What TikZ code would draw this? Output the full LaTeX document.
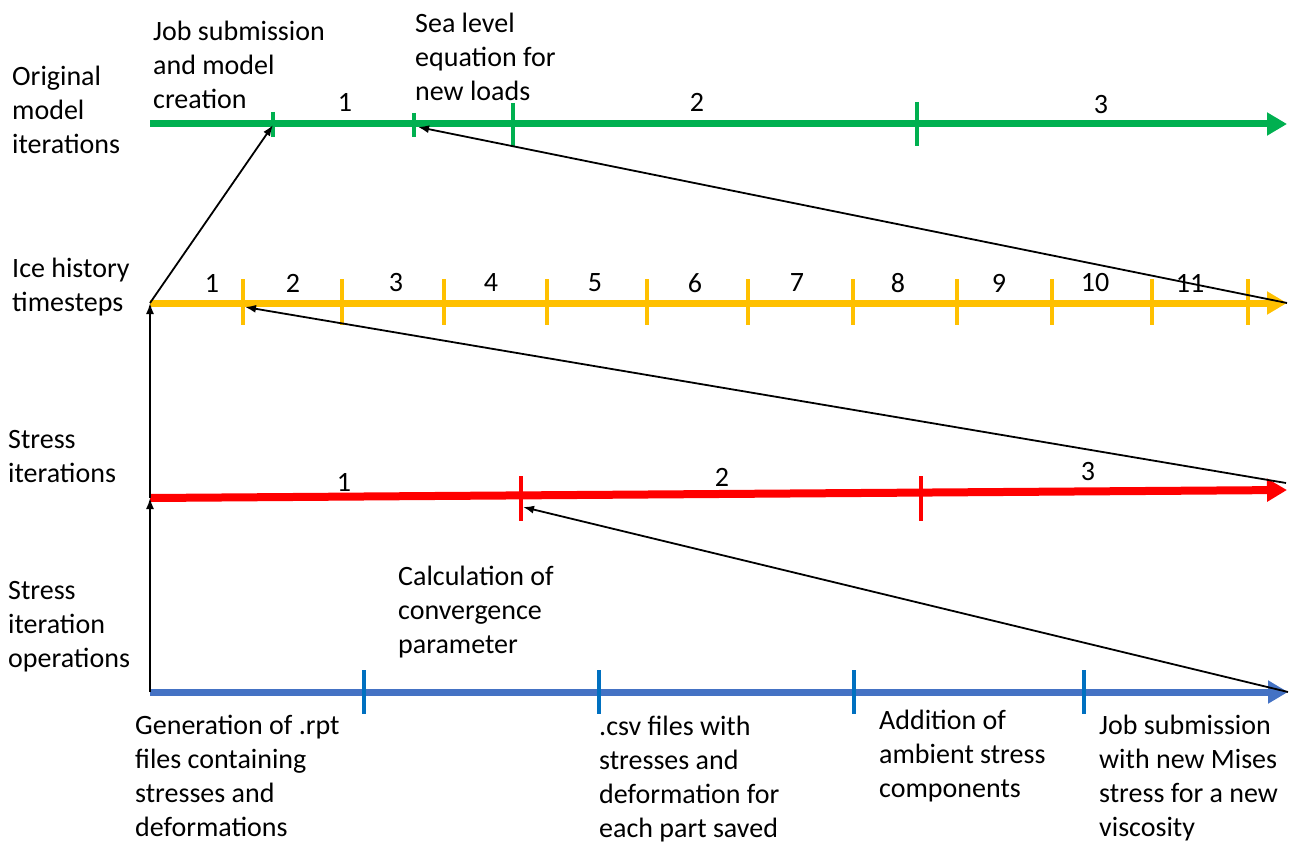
\documentclass[tikz,border=0pt]{standalone}
\usepackage{fontspec}
\setmainfont{Carlito}
\usetikzlibrary{arrows.meta}
\definecolor{tlgreen}{HTML}{00B050}
\definecolor{tlyellow}{HTML}{FFC000}
\definecolor{tlred}{HTML}{FF0000}
\definecolor{tlblue}{HTML}{4472C4}
\definecolor{tltick}{HTML}{0070C0}
\tikzset{
  axisline/.style={line width=7pt,-{Triangle[length=20pt,width=22pt]}},
  tickmark/.style={line width=4pt},
  lbl/.style={font=\fontsize{28}{34}\selectfont,align=left,anchor=north west,inner sep=0pt},
  num/.style={font=\fontsize{28}{34}\selectfont,inner sep=0pt},
  link/.style={line width=1.8pt,-{Latex[length=11pt,width=8pt]}}
}
\begin{document}
\begin{tikzpicture}[x=1pt,y=-1pt]
\useasboundingbox (0,0) rectangle (1292,845);

% key points of the four time axes
\coordinate (g0) at (150,124);  \coordinate (g1) at (1287,124);
\coordinate (y0) at (150,303);  \coordinate (y1) at (1287,303);
\coordinate (r0) at (150,498);  \coordinate (r1) at (1287,490);
\coordinate (b0) at (150,692);  \coordinate (b1) at (1288,692);

% axes
\draw[axisline,tlgreen] (g0) -- (g1);
\draw[axisline,tlyellow] (y0) -- (y1);
\draw[axisline,tlred,line width=8pt] (r0) -- (r1);
\draw[axisline,tlblue] (b0) -- (b1);

% tick marks
\draw[tickmark,tlgreen] (273,112) -- (273,137);
\draw[tickmark,tlgreen] (414,113) -- (414,137);
\draw[tickmark,tlgreen] (513,103) -- (513,146);
\draw[tickmark,tlgreen] (917,102) -- (917,146);
\foreach \x in {243,342,444,547,647,748,853,957,1052,1152,1248}
  \draw[tickmark,tlyellow] (\x,279) -- (\x,325);
\draw[tickmark,tlred] (521,476) -- (521,521);
\draw[tickmark,tlred] (921,476) -- (921,521);
\foreach \x in {364,599,854,1084}
  \draw[tickmark,tltick] (\x,670) -- (\x,714);

% connector end points on the ticks
\coordinate (gA) at (273,125);
\coordinate (gB) at (418,127);
\coordinate (yA) at (245,307);
\coordinate (rA) at (523,507);
\coordinate (rE) at (1286,483);

% row titles
\node[lbl] (tOrig) at (12,66) {Original\\model\\iterations};
\node[lbl] (tIce) at (12,258) {Ice history\\timesteps};
\node[lbl] (tStress) at (8,430) {Stress\\iterations};
\node[lbl] (tOps) at (8,581) {Stress\\iteration\\operations};

% step descriptions
\node[lbl] (dJob) at (153,21) {Job submission\\and model\\creation};
\node[lbl] (dSea) at (415,13) {Sea level\\equation for\\new loads};
\node[lbl] (dCalc) at (398,566) {Calculation of\\convergence\\parameter};
\node[lbl] (dGen) at (135,715) {Generation of .rpt\\files containing\\stresses and\\deformations};
\node[lbl] (dCsv) at (599,716) {.csv files with\\stresses and\\deformation for\\each part saved};
\node[lbl] (dAdd) at (879,710) {Addition of\\ambient stress\\components};
\node[lbl] (dSub) at (1099,715) {Job submission\\with new Mises\\stress for a new\\viscosity};

% iteration numbers
\node[num] (gn1) at (345,102) {1};
\node[num] (gn2) at (697,102) {2};
\node[num] (gn3) at (1101,105) {3};
\foreach \x/\n in {212/1,293/2,396/3,491/4,595/5,695/6,797/7,898/8,999/9,1095/10,1190/11}
  \node[num] (yn\n) at (\x,283) {\n};
\node[num] (rn1) at (344,482) {1};
\node[num] (rn2) at (722,477) {2};
\node[num] (rn3) at (1088,472) {3};

% links between the axes
\draw[link] (b0) -- (r0);
\draw[link] (r0) -- (y0);
\draw[link] (y0) -- (gA);
\draw[link] (y1) -- (gB);
\draw[link] (rE) -- (yA);
\draw[link] (b1) -- (rA);
\end{tikzpicture}
\end{document}
